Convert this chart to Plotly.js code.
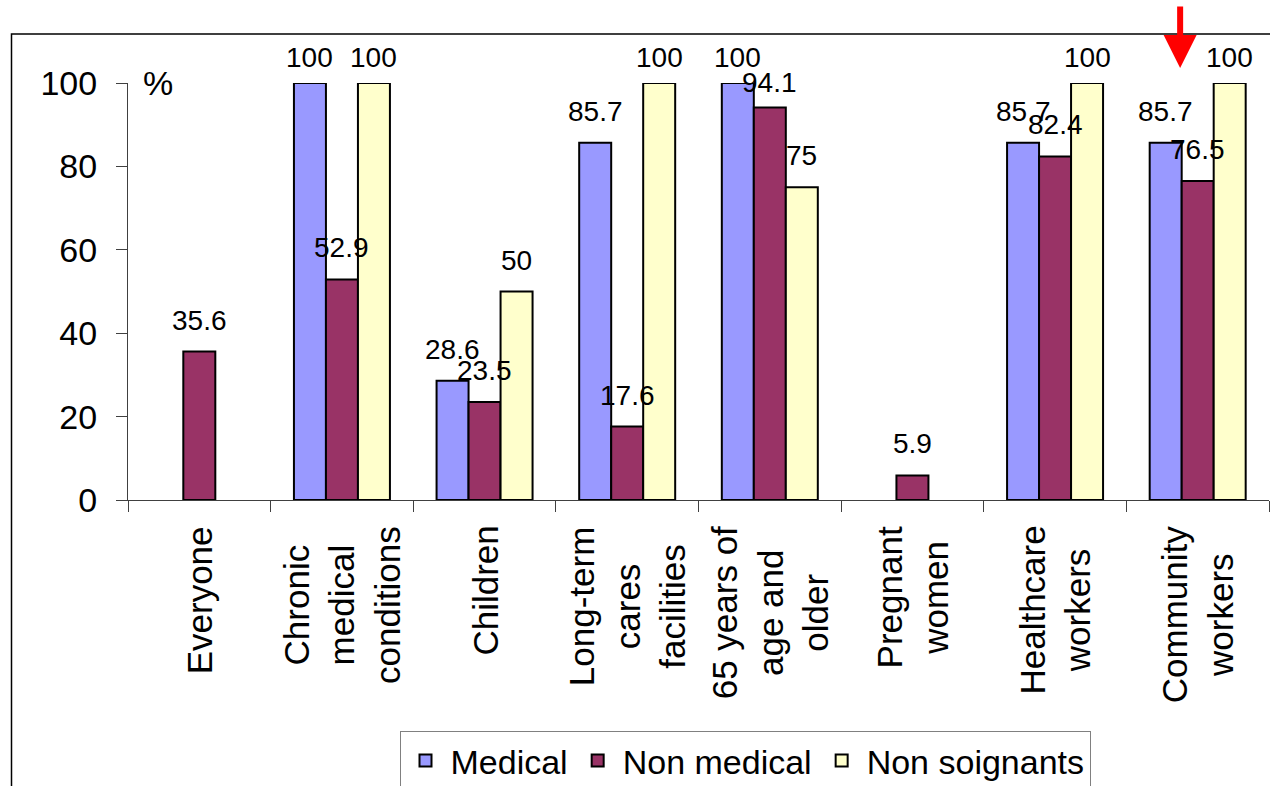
<!DOCTYPE html>
<html>
<head>
<meta charset="utf-8">
<script src="https://cdn.plot.ly/plotly-3.0.1.min.js"></script>
<style>html,body{margin:0;padding:0;background:#fff;}#chart{width:1270px;height:786px;}</style>
</head>
<body>
<div id="chart"></div>
<script>
// ---- data ----
var categories = [
  "Everyone",
  "Chronic<br>medical<br>conditions",
  "Children",
  "Long-term<br>cares<br>facilities",
  "65 years of<br>age and<br>older",
  "Pregnant<br>women",
  "Healthcare<br>workers",
  "Community<br>workers"
];
var seriesNames = ["Medical", "Non medical", "Non soignants"];
var medical      = [null, 100, 28.6, 85.7, 100, null, 85.7, 85.7];
var nonMedical   = [35.6, 52.9, 23.5, 17.6, 94.1, 5.9, 82.4, 76.5];
var nonSoignants = [null, 100, 50, 100, 75, null, 100, 100];
var yTicks = [0, 20, 40, 60, 80, 100];

// ---- styles ----
var colors = ["#9999FF", "#993366", "#FFFFCC"];
var FONT = "Arial, 'Liberation Sans', sans-serif";
var W = 1270, H = 786;
var M = {l: 128, r: 1, t: 83, b: 286};
var bargap = 0.327;
var plotW = W - M.l - M.r, plotH = H - M.t - M.b;
var catW = plotW / categories.length;
var barPx = catW * (1 - bargap) / 3;

var seriesValues = [medical, nonMedical, nonSoignants];
var traces = seriesValues.map(function (vals, i) {
  return {
    type: "bar",
    name: seriesNames[i],
    x: categories,
    y: vals,
    marker: {color: colors[i], line: {color: "#000", width: 2}},
    hoverinfo: "none"
  };
});

var annotations = [];
// value labels
seriesValues.forEach(function (vals, i) {
  vals.forEach(function (v, j) {
    if (v === null) return;
    annotations.push({
      x: categories[j], y: v, xref: "x", yref: "y",
      xshift: (i - 1) * barPx, yshift: v >= 90 ? 8 : 14,
      yanchor: "bottom", xanchor: "center",
      text: String(v), showarrow: false,
      font: {family: FONT, size: 28, color: "#000"}
    });
  });
});
// category labels (rotated, lines centred)
categories.forEach(function (c) {
  annotations.push({
    x: c, xref: "x", y: 0, yref: "paper", yshift: -24,
    xanchor: "center", yanchor: "top", textangle: -90, align: "center",
    text: c, showarrow: false,
    font: {family: FONT, size: 35, color: "#000"}
  });
});
// percent sign
annotations.push({
  x: 0.026, xref: "paper", y: 100, yref: "y", text: "%", showarrow: false,
  xanchor: "center", yanchor: "middle", font: {family: FONT, size: 34, color: "#000"}
});
// red arrow
annotations.push({
  x: 6.877, xref: "x", y: 1 + 15 / plotH, yref: "paper", ax: 0, ay: -63,
  showarrow: true, arrowhead: 2, arrowsize: 1.1, arrowwidth: 6, arrowcolor: "#FF0000", text: ""
});

var layout = {
  width: W, height: H,
  margin: M,
  paper_bgcolor: "#fff", plot_bgcolor: "#fff",
  font: {family: FONT, color: "#000"},
  barmode: "group", bargap: bargap, bargroupgap: 0,
  showlegend: true,
  legend: {
    orientation: "h",
    xref: "container", x: 745 / W, xanchor: "center",
    yref: "container", y: 1 - 731 / H, yanchor: "top",
    bordercolor: "#808080", borderwidth: 1, bgcolor: "#fff",
    font: {family: FONT, size: 34, color: "#000"},
    itemwidth: 40,
    traceorder: "normal"
  },
  xaxis: {
    type: "category", showline: true, linecolor: "#404040", linewidth: 1,
    ticks: "outside", ticklen: 11, tickcolor: "#404040", tickson: "boundaries",
    showticklabels: false, automargin: false,
    showgrid: false, zeroline: false, fixedrange: true
  },
  yaxis: {
    range: [0, 100], tickvals: yTicks, ticktext: yTicks.map(String),
    showline: true, linecolor: "#404040", linewidth: 1,
    ticks: "outside", ticklen: 11, tickcolor: "#404040",
    tickfont: {family: FONT, size: 34, color: "#000"},
    ticklabelstandoff: 12, automargin: false,
    showgrid: false, zeroline: false, fixedrange: true
  },
  shapes: [{
    type: "rect", xref: "paper", yref: "paper",
    x0: (11.5 - M.l) / plotW, x1: 1.05,
    y0: -0.8, y1: 1 + (M.t - 34) / plotH,
    line: {color: "#000", width: 1.5}, fillcolor: "rgba(0,0,0,0)", layer: "below"
  }],
  annotations: annotations
};

Plotly.newPlot("chart", traces, layout, {displayModeBar: false, staticPlot: true});
</script>
</body>
</html>
